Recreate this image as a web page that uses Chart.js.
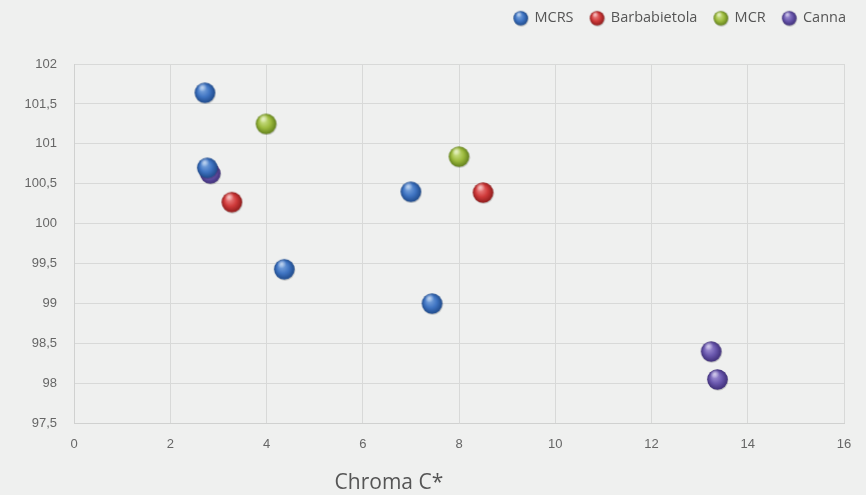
<!DOCTYPE html>
<html>
<head>
<meta charset="utf-8">
<script src="https://cdn.jsdelivr.net/npm/chart.js@4"></script>
<style>
  html, body { margin: 0; padding: 0; background: #eff0ef; }
  #wrap { width: 866px; height: 495px; position: relative; }
</style>
</head>
<body>
<div id="wrap"><canvas id="c" width="866" height="495"></canvas></div>
<script>
// ---- data ----
const seriesNames = ["MCRS", "Barbabietola", "MCR", "Canna"];
const mcrsX = [2.72, 2.77, 7.0, 4.37, 7.44];
const mcrsY = [101.64, 100.70, 100.40, 99.43, 99.0];
const barbX = [3.28, 8.5];
const barbY = [100.27, 100.39];
const mcrX = [3.99, 8.0];
const mcrY = [101.25, 100.84];
const cannaX = [2.83, 13.24, 13.37];
const cannaY = [100.63, 98.40, 98.05];
const xTicks = [0, 2, 4, 6, 8, 10, 12, 14, 16];
const yTicks = [97.5, 98, 98.5, 99, 99.5, 100, 100.5, 101, 101.5, 102];
const xTitle = "Chroma C*";

// ---- sphere images ----
function sphere(size, light, base, dark) {
  const cv = document.createElement('canvas');
  cv.width = size; cv.height = size;
  const g = cv.getContext('2d');
  const r = size / 2 - 1.2;
  const cx = size / 2, cy = size / 2;
  g.fillStyle = 'rgba(0,0,0,0.18)';
  g.beginPath(); g.arc(cx + 0.6, cy + 1, r, 0, Math.PI * 2); g.fill();
  const grad = g.createRadialGradient(cx - r * 0.3, cy - r * 0.4, r * 0.1, cx, cy, r);
  grad.addColorStop(0, light);
  grad.addColorStop(0.55, base);
  grad.addColorStop(1, dark);
  g.fillStyle = grad;
  g.beginPath(); g.arc(cx, cy, r, 0, Math.PI * 2); g.fill();
  const hg = g.createRadialGradient(cx - r * 0.25, cy - r * 0.55, 0, cx - r * 0.25, cy - r * 0.55, r * 0.45);
  hg.addColorStop(0, 'rgba(255,255,255,0.55)');
  hg.addColorStop(1, 'rgba(255,255,255,0)');
  g.fillStyle = hg;
  g.beginPath(); g.arc(cx, cy, r, 0, Math.PI * 2); g.fill();
  return cv;
}
const palette = [
  ['#7fa9e0', '#3f74c2', '#1f4a8a'],
  ['#ef8a8a', '#cf3a3a', '#8e1c1c'],
  ['#cfe38e', '#9dbb3e', '#62801c'],
  ['#a596d8', '#6957ad', '#3f2f78']
];
const bigImgs = palette.map(p => sphere(23, p[0], p[1], p[2]));
const smallImgs = palette.map(p => sphere(17, p[0], p[1], p[2]));

function pts(xs, ys) { return xs.map((x, i) => ({ x: x, y: ys[i] })); }
const allX = [mcrsX, barbX, mcrX, cannaX];
const allY = [mcrsY, barbY, mcrY, cannaY];

const datasets = seriesNames.map((n, i) => ({
  label: n,
  data: pts(allX[i], allY[i]),
  pointStyle: bigImgs[i],
  backgroundColor: palette[i][1],
  borderColor: palette[i][1]
}));

const LEG_PAD = 17;
const layoutTweaks = {
  id: 'layoutTweaks',
  afterInit(chart) {
    const L = chart.legend;
    const f = L.fit.bind(L);
    L.fit = function () { f(); this.height = 64; };
  },
  afterLayout(chart) {
    const L = chart.legend;
    L.top = -6;
    L.right = 846 + LEG_PAD;
  },
  afterDraw(chart) {
    const ctx = chart.ctx;
    const a = chart.chartArea;
    ctx.save();
    ctx.font = '21px "Open Sans", sans-serif';
    ctx.fillStyle = '#555';
    ctx.textAlign = 'center';
    ctx.textBaseline = 'middle';
    ctx.fillText(xTitle, a.left + (a.right - a.left) * 0.409, 483);
    ctx.restore();
  }
};

new Chart(document.getElementById('c'), {
  type: 'scatter',
  data: { datasets: datasets },
  plugins: [layoutTweaks],
  options: {
    responsive: false,
    animation: false,
    layout: { padding: { top: 0, right: 22, left: 8, bottom: 30 } },
    plugins: {
      tooltip: { enabled: false },
      legend: {
        position: 'top',
        align: 'end',
        labels: {
          usePointStyle: true,
          boxWidth: 13,
          boxHeight: 13,
          padding: LEG_PAD,
          color: '#555',
          font: { family: 'Open Sans, sans-serif', size: 14.5 },
          generateLabels: (chart) => seriesNames.map((n, i) => ({
            text: n,
            pointStyle: smallImgs[i],
            fillStyle: palette[i][1],
            strokeStyle: palette[i][1],
            lineWidth: 0,
            datasetIndex: i,
            hidden: false,
            fontColor: '#555'
          }))
        }
      }
    },
    scales: {
      x: {
        type: 'linear',
        min: 0, max: 16,
        afterBuildTicks: (s) => { s.ticks = xTicks.map(v => ({ value: v })); },
        grid: { color: '#d8d9d8', lineWidth: 1, drawTicks: false },
        border: { color: '#d0d1d0' },
        ticks: {
          color: '#666',
          padding: 13,
          font: { family: 'Liberation Sans, sans-serif', size: 13 }
        }
      },
      y: {
        type: 'linear',
        min: 97.5, max: 102,
        afterBuildTicks: (s) => { s.ticks = yTicks.map(v => ({ value: v })); },
        afterFit: (s) => { s.width = 66; },
        grid: { color: '#d8d9d8', lineWidth: 1, drawTicks: false },
        border: { color: '#d0d1d0' },
        ticks: {
          color: '#666',
          padding: 17,
          font: { family: 'Liberation Sans, sans-serif', size: 13 },
          callback: (v) => String(v).replace('.', ',')
        }
      }
    }
  }
});
</script>
</body>
</html>
